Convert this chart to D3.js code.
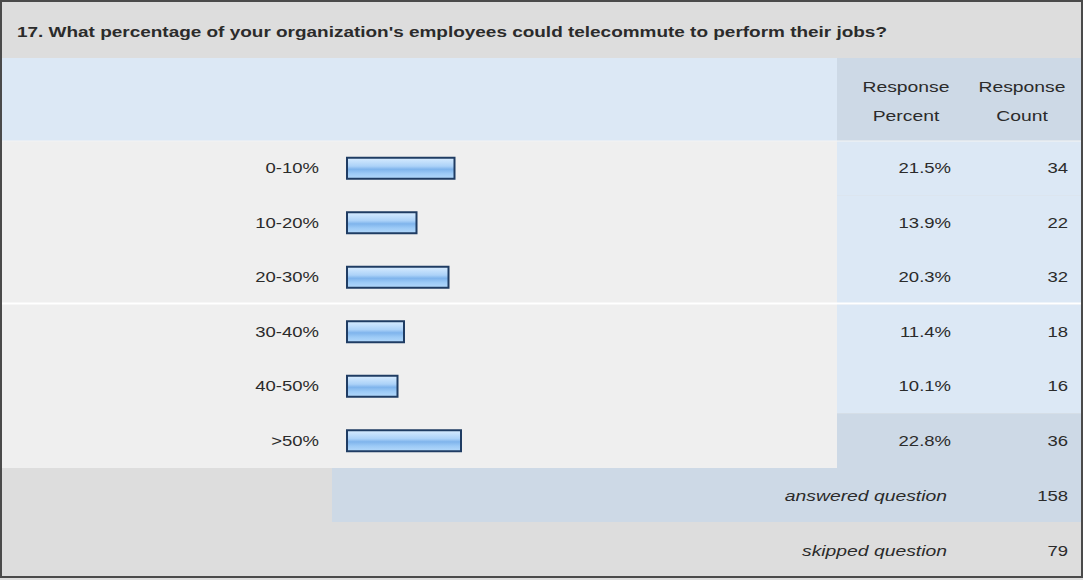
<!DOCTYPE html>
<html>
<head>
<meta charset="utf-8">
<script src="https://cdn.jsdelivr.net/npm/d3@7"></script>
<style>
    html, body { margin: 0; padding: 0; background: #fff; }
    svg { display: block; }
    text { font-family: "Liberation Sans", Arial, sans-serif; fill: #2b2b2b; }
</style>
</head>
<body>
<svg id="survey-chart"></svg>
<script>
const width = 1083;
const height = 580;

// survey question and answers
const question = "17. What percentage of your organization's employees could telecommute to perform their jobs?";
const categories = ["0-10%", "10-20%", "20-30%", "30-40%", "40-50%", ">50%"];
const percents = [21.5, 13.9, 20.3, 11.4, 10.1, 22.8];
const counts = [34, 22, 32, 18, 16, 36];
const answered = 158;
const skipped = 79;

// the screenshot is stretched sideways, so text is widened by this factor
const textStretch = 1.32;

const svg = d3.select("#survey-chart")
    .attr("width", width)
    .attr("height", height);

// rows of the table
const y = d3.scaleBand()
    .domain(categories)
    .range([141, 468]);

// bar length: 0..100 percent
const x = d3.scaleLinear()
    .domain([0, 100])
    .range([347, 847]);

const colSplit = 837;   // where the right-hand columns start
const rowH = y.bandwidth();

/**
 * Widen a text selection horizontally to mimic the stretched screenshot.
 */
function stretch(sel, k, target) {
    sel.each(function () {
        const len = target || this.getComputedTextLength() * k;
        d3.select(this)
            .attr("textLength", len)
            .attr("lengthAdjust", "spacingAndGlyphs");
    });
}

// bar gradient
const grad = svg.append("defs").append("linearGradient")
    .attr("id", "barFill")
    .attr("x1", 0).attr("y1", 0).attr("x2", 0).attr("y2", 1);
grad.append("stop").attr("offset", "0%").attr("stop-color", "#d8ecff");
grad.append("stop").attr("offset", "40%").attr("stop-color", "#acd2f8");
grad.append("stop").attr("offset", "55%").attr("stop-color", "#7fb4ec");
grad.append("stop").attr("offset", "75%").attr("stop-color", "#9ccaf6");
grad.append("stop").attr("offset", "100%").attr("stop-color", "#b4d9fb");

// backgrounds
svg.append("rect").attr("x", 0).attr("y", 0).attr("width", width).attr("height", height)
    .attr("fill", "#dddddd");
// title bar
svg.append("rect").attr("x", 2).attr("y", 2).attr("width", width - 4).attr("height", 56)
    .attr("fill", "#dddddd");
// header row
svg.append("rect").attr("x", 2).attr("y", 58).attr("width", colSplit - 2).attr("height", 83)
    .attr("fill", "#dce8f5");
svg.append("rect").attr("x", colSplit).attr("y", 58).attr("width", width - 2 - colSplit).attr("height", 83)
    .attr("fill", "#cdd9e6");
// answer rows
svg.append("rect").attr("x", 2).attr("y", y.range()[0]).attr("width", colSplit - 2)
    .attr("height", y.range()[1] - y.range()[0]).attr("fill", "#efefef");
svg.selectAll("rect.cell")
    .data(categories)
    .join("rect")
    .attr("class", "cell")
    .attr("x", colSplit)
    .attr("y", d => y(d))
    .attr("width", width - 2 - colSplit)
    .attr("height", rowH)
    .attr("fill", (d, i) => i === categories.length - 1 ? "#cdd9e6" : "#dce8f5");
// answered row
svg.append("rect").attr("x", 332).attr("y", y.range()[1]).attr("width", width - 2 - 332).attr("height", 54)
    .attr("fill", "#cdd9e6");

// white separators
svg.append("line").attr("x1", 2).attr("x2", width - 2).attr("y1", 141).attr("y2", 141)
    .attr("stroke", "#f4f4f4").attr("stroke-width", 1);
svg.append("line").attr("x1", 2).attr("x2", width - 2)
    .attr("y1", y(categories[3]) - 1).attr("y2", y(categories[3]) - 1)
    .attr("stroke", "#ffffff").attr("stroke-width", 2);

// outer border
svg.append("rect").attr("x", 1).attr("y", 1).attr("width", width - 2).attr("height", 576)
    .attr("fill", "none").attr("stroke", "#4a4a4a").attr("stroke-width", 2);

// title
svg.append("text")
    .attr("x", 17).attr("y", 37)
    .attr("font-size", 15).attr("font-weight", "bold")
    .attr("fill", "#222")
    .text(question)
    .call(stretch, 1, 870);

// column headers
const headers = [["Response", "Percent", 906], ["Response", "Count", 1022]];
headers.forEach(h => {
    svg.append("text").attr("x", h[2]).attr("y", 92)
        .attr("text-anchor", "middle").attr("font-size", 14)
        .text(h[0]).call(stretch, 1.38);
    svg.append("text").attr("x", h[2]).attr("y", 121)
        .attr("text-anchor", "middle").attr("font-size", 14)
        .text(h[1]).call(stretch, 1.38);
});

// category labels
svg.selectAll("text.label")
    .data(categories)
    .join("text")
    .attr("class", "label")
    .attr("x", 319)
    .attr("y", d => y(d) + rowH / 2 + 5)
    .attr("text-anchor", "end")
    .attr("font-size", 14)
    .text(d => d)
    .call(stretch, textStretch);

// bars
svg.selectAll("rect.bar")
    .data(percents)
    .join("rect")
    .attr("class", "bar")
    .attr("x", x(0))
    .attr("y", (d, i) => y(categories[i]) + rowH / 2 - 10.5)
    .attr("width", d => x(d) - x(0))
    .attr("height", 21)
    .attr("fill", "url(#barFill)")
    .attr("stroke", "#1f3c63")
    .attr("stroke-width", 2);

// response percent
svg.selectAll("text.pct")
    .data(percents)
    .join("text")
    .attr("class", "pct")
    .attr("x", 951)
    .attr("y", (d, i) => y(categories[i]) + rowH / 2 + 5)
    .attr("text-anchor", "end")
    .attr("font-size", 14)
    .text(d => d.toFixed(1) + "%")
    .call(stretch, textStretch);

// response count
svg.selectAll("text.cnt")
    .data(counts)
    .join("text")
    .attr("class", "cnt")
    .attr("x", 1068)
    .attr("y", (d, i) => y(categories[i]) + rowH / 2 + 5)
    .attr("text-anchor", "end")
    .attr("font-size", 14)
    .text(d => d)
    .call(stretch, textStretch);

// totals
const totals = [["answered question", answered, 496], ["skipped question", skipped, 551]];
totals.forEach(t => {
    svg.append("text").attr("x", 947).attr("y", t[2] + 5)
        .attr("text-anchor", "end").attr("font-size", 14).attr("font-style", "italic")
        .text(t[0]).call(stretch, 1.38);
    svg.append("text").attr("x", 1068).attr("y", t[2] + 5)
        .attr("text-anchor", "end").attr("font-size", 14)
        .text(t[1]).call(stretch, textStretch);
});
</script>
</body>
</html>
